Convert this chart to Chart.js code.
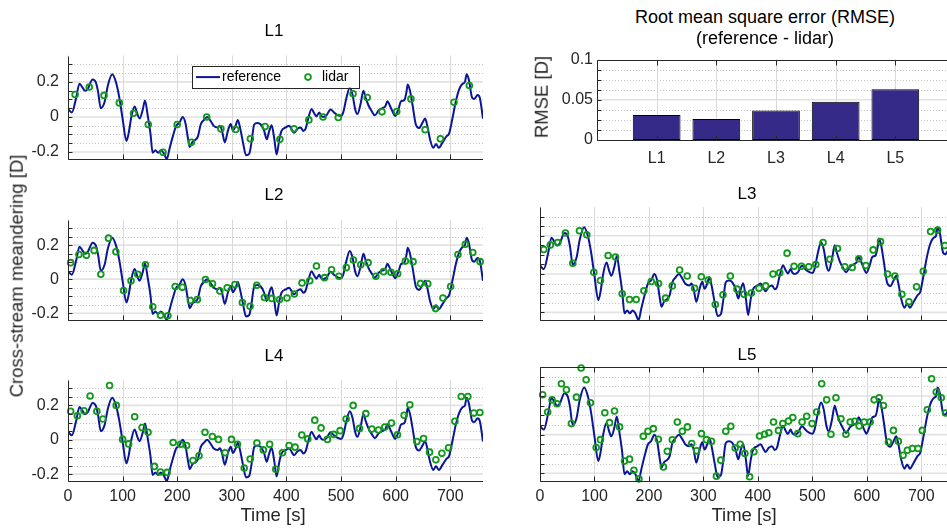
<!DOCTYPE html>
<html>
<head>
<meta charset="utf-8">
<script src="https://cdn.jsdelivr.net/npm/chart.js@4.4.0/dist/chart.umd.min.js"></script>
<style>
  html, body { margin: 0; padding: 0; background: #fff; overflow: hidden; width: 947px; height: 531px; position: relative;
               font-family: "Liberation Sans", Arial, sans-serif; color: #262626; }
  canvas { position: absolute; }
  .t { position: absolute; white-space: nowrap; transform: translate(-50%, -50%); line-height: 1; font-size: 18.5px; }
  .ttl { color: #000; font-size: 17px; }
  .big { font-size: 18px; }
  .rot { transform: translate(-50%, -50%) rotate(-90deg); }
</style>
</head>
<body>
<canvas id="c1"></canvas>
<canvas id="c2"></canvas>
<canvas id="c3"></canvas>
<canvas id="c4"></canvas>
<canvas id="c5"></canvas>
<canvas id="cBar"></canvas>

<div class="t ttl" style="left:274px;top:30px">L1</div>
<div class="t ttl" style="left:274px;top:194px">L2</div>
<div class="t ttl" style="left:747px;top:193px">L3</div>
<div class="t ttl" style="left:274px;top:355px">L4</div>
<div class="t ttl" style="left:747px;top:354px">L5</div>
<div class="t ttl big" style="left:765px;top:17px">Root mean square error (RMSE)</div>
<div class="t ttl big" style="left:765px;top:38px">(reference - lidar)</div>
<div class="t rot" style="left:542px;top:97px">RMSE [D]</div>
<div class="t rot" style="left:17px;top:276px">Cross-stream meandering [D]</div>
<div class="t" style="left:273px;top:515px">Time [s]</div>
<div class="t" style="left:744px;top:515px">Time [s]</div>

<script>
// --- DATA ---
// reference signal (same in every panel)
const refTime = [0,7,15,21,27,31,36,45,51,55,60,67,73,81,88,94,100,107,111,116,122,127,131,137,141,146,151,155,160,165,170,175,181,186,192,198,204,210,215,220,223,228,233,238,243,249,255,261,267,274,278,282,287,293,298,302,307,311,315,321,326,332,336,341,347,353,359,364,368,373,378,382,387,391,399,405,410,414,420,426,431,435,440,446,451,455,460,463,467,473,481,487,493,500,504,510,516,521,526,530,536,541,545,550,556,562,569,576,581,585,589,595,599,605,610,616,620,622,626,631,637,643,649,654,658,663,669,674,679,686,693,698,704,710,716,722,727,730,734,740,744,750,754,760];
const refValue = [0.046,0.026,0.11,0.19,0.166,0.149,0.159,0.214,0.197,0.145,0.05,0.085,0.18,0.244,0.197,0.11,-0.01,-0.137,-0.094,0,0.06,0.017,-0.009,0.043,0.094,0.008,-0.094,-0.205,-0.19,-0.205,-0.19,-0.205,-0.24,-0.18,-0.111,-0.051,-0.034,0.0,-0.034,-0.128,-0.171,-0.142,-0.132,-0.111,-0.043,-0.017,0.0,-0.022,-0.051,-0.06,-0.05,-0.077,-0.145,-0.077,-0.04,-0.077,-0.05,-0.017,-0.06,-0.154,-0.219,-0.21,-0.145,-0.043,-0.034,-0.043,-0.077,-0.128,-0.085,-0.048,-0.13,-0.214,-0.128,-0.08,-0.06,-0.05,-0.073,-0.09,-0.068,-0.06,-0.08,-0.068,-0.009,0.046,0.02,0.003,0.026,0.009,0.0,0.008,0.043,0.026,0.012,0.005,0.026,0.11,0.166,0.128,0.043,0.017,0.077,0.15,0.111,0.068,0.034,0.009,0.038,0.051,0.06,0.09,0.068,0.026,0.005,0.043,0.089,0.097,0.145,0.185,0.154,0.068,-0.043,-0.063,-0.034,-0.009,-0.051,-0.128,-0.176,-0.154,-0.176,-0.145,-0.111,-0.094,-0.009,0.085,0.154,0.188,0.2,0.244,0.214,0.111,0.103,0.125,0.111,-0.01];

// lidar estimates, one pair of arrays per distance
const l1Time = [13,39,66,94,120,147,174,200,226,254,280,307,334,361,388,414,441,467,495,522,548,575,602,628,654,682,707,735];
const l1Lidar = [0.128,0.171,0.123,0.080,0.021,-0.043,-0.202,-0.043,-0.145,0.0,-0.068,-0.072,-0.125,-0.055,-0.128,-0.068,-0.017,0.0,-0.003,0.132,0.111,0.029,0.031,0.103,-0.073,-0.125,0.084,0.179];

const l2Time = [4.8,20.1,33.7,47.8,60.1,74.2,87.7,101.8,115.4,127.6,141.8,155.3,169.4,182.9,196.4,209.3,224.1,237,251.7,264.6,278.1,291.6,305.8,319.3,333.4,345.7,359.8,373.3,387.4,401,414.5,428.6,442.7,455,469.8,482.7,496.2,509.7,522.6,536.1,549.6,563.8,577.9,591.4,603.7,617.8,631.9,645.4,658.9,673.1,686.6,700.7,714.2,727.7,741.2,754.8];
const l2Lidar = [0.097,0.145,0.140,0.169,0.029,0.241,0.161,-0.067,-0.010,0.029,0.085,-0.162,-0.212,-0.215,-0.043,-0.048,-0.125,-0.120,-0.002,-0.027,-0.070,-0.051,-0.031,-0.137,-0.159,-0.036,-0.108,-0.113,-0.120,-0.111,-0.087,-0.022,-0.009,0.077,0.009,0.055,0.017,0.068,0.113,0.085,0.097,0.017,0.044,0.041,0.032,0.106,0.103,-0.026,-0.027,-0.173,-0.111,-0.043,0.145,0.205,0.157,0.103];

const l3Time = [6.9,19.1,32.6,46.7,60.2,72.4,85.9,98.8,111,125.1,138.6,150.9,164.3,176.6,190.7,204.2,217.6,230.5,242.8,256.3,270.3,283.8,296.1,308.9,321.8,335.9,349.4,361.6,374.5,388,402.1,414.3,427.8,440.1,453.6,466.4,479.9,493.4,506.3,519.6,532,546.1,559.6,573.1,585.3,598.2,611.6,625.1,638,651.5,664.3,677.2,691.3,703.6,717,729.9,743.4];
const l3Lidar = [0.128,0.152,0.164,0.214,0.056,0.226,0.205,0.009,-0.034,0.097,0.089,-0.103,-0.133,-0.133,-0.087,-0.039,-0.050,-0.126,-0.062,0.021,-0.010,-0.074,-0.014,-0.031,-0.159,-0.108,-0.010,-0.079,-0.106,-0.099,-0.074,-0.062,0.0,0.007,0.109,0.041,0.041,0.038,0.05,0.164,0.077,0.133,0.038,0.034,0.080,0.044,0.126,0.169,0.0,-0.010,-0.106,-0.145,-0.067,0.014,0.222,0.229,0.149];

const l4Time = [4.9,17.2,29.4,40.5,52.8,63.8,76.1,88.3,100,111,122.1,135.6,146.6,158.3,169.3,181.6,192.6,206.1,217.2,228.8,239.9,250.9,264.4,275.5,287.7,299.4,310.4,322.7,333.7,346,357.7,369.3,380.5,392.7,404.9,415.9,428.1,439.1,451.9,463.5,475.1,486.7,498.3,509.3,522.2,533.8,545.4,556.4,568.6,580.2,592.4,603.4,615.6,626,638.9,651.1,662.1,673.7,684.7,696.9,708.5,720.1,732.3,743.3,754.3];
const l4Lidar = [0.166,0.140,0.169,0.255,0.166,0.121,0.316,0.2,0.002,-0.024,0.134,0.071,0.043,-0.155,-0.188,-0.19,-0.016,-0.026,-0.034,-0.121,-0.093,0.043,0.019,0.002,-0.076,0.002,-0.026,-0.164,-0.112,-0.019,-0.059,-0.026,-0.172,-0.076,-0.034,-0.043,0.028,0.005,0.114,0.069,0.002,0.031,0.053,0.121,0.2,0.066,0.152,0.062,0.057,0.074,0.097,0.029,0.143,0.203,-0.010,0.007,-0.072,-0.117,-0.079,-0.047,0.107,0.252,0.252,0.155,0.159];

const l5Time = [4.9,14.1,22.1,31.3,39.3,48.5,57.7,66.9,75.5,84.7,92.6,103.1,111,119,127.6,136.8,146,155.2,164.4,172.4,181.6,189.6,198.2,208,217.2,226.4,233.7,242.9,252.1,261.3,270.6,278.5,287.7,296.3,305.5,314.7,323.9,331.9,341.1,350.3,358.3,367.5,376.1,384.8,392.7,403,412.2,420.1,428.7,437.8,445.7,456.1,464,473.2,481.1,489.6,499.4,507.9,517.1,526.2,534.1,543.3,552.4,561.6,569.5,578,585.9,595.1,606.1,613.4,622.6,630.5,639.6,648.8,657.9,666.5,674.4,683.5,693.9,701.8,711,718.9,727.4,736.6,744.5];
const l5Lidar = [0.206,0.117,0.180,0.160,0.263,0.232,0.057,0.194,0.345,0.284,0.165,-0.067,-0.026,0.113,0.062,0.122,0.040,-0.137,-0.127,-0.184,-0.229,-0.009,0.017,0.031,-0.024,-0.167,-0.086,-0.027,0.065,0.017,0.040,-0.046,-0.084,0.005,-0.026,-0.034,-0.215,-0.132,0.017,0.043,-0.069,-0.050,-0.098,-0.218,-0.089,-0.007,0.002,0.010,0.065,0.022,0.057,0.070,0.088,0.005,0.065,0.095,0.057,0.117,0.263,0.180,0.002,0.191,0.082,0.002,0.065,0.069,0.045,0.065,0.065,0.180,0.191,0.151,-0.038,0.022,-0.034,-0.107,-0.081,-0.072,-0.072,0.022,0.129,0.289,0.220,0.191,0.112];

// RMSE bar chart
const rmseLabels = ['L1', 'L2', 'L3', 'L4', 'L5'];
const rmseValues = [0.031, 0.026, 0.0368, 0.0477, 0.0632];

// ticks
const timeTicks = [0, 100, 200, 300, 400, 500, 600, 700];
const meanderTicks = [-0.2, 0, 0.2];
const meanderMinor = [-0.15, -0.1, -0.05, 0.05, 0.1, 0.15, 0.25, 0.3];
const rmseTicks = [0, 0.05, 0.1];
const rmseMinor = [0.0125, 0.025, 0.0375, 0.0625, 0.075, 0.0875];

// --- STYLE ---
const FONT = '"Liberation Sans", Arial, sans-serif';
const AX = '#262626';
const LINE = '#0a1696';
const GREEN = '#10991a';
const BAR = '#352a87';
const Y_AXIS_W = 60, X_AXIS_H = 30, PAD_T = 6, PAD_R = 6;

const fmt = v => String(+(+v).toFixed(3));

// sizes the canvas so the chart area lands on the given plot box
function place(cv, r) {
    cv.width = r.right - r.left + Y_AXIS_W + PAD_R;
    cv.height = r.bottom - r.top + PAD_T + X_AXIS_H;
    cv.style.left = (r.left - Y_AXIS_W) + 'px';
    cv.style.top = (r.top - PAD_T) + 'px';
}

// MATLAB-like grid (solid majors, dotted minors), box lines and inward ticks
const matlabAxes = {
    id: 'matlabAxes',
    beforeDatasetsDraw(chart, args, o) {
        const { ctx, chartArea: a } = chart;
        const x = chart.scales.x, y = chart.scales.y;
        ctx.save();
        ctx.lineWidth = 1;
        ctx.strokeStyle = '#c4c4c4';
        ctx.setLineDash([1, 2]);
        o.yMinor.forEach(v => {
            const py = Math.round(y.getPixelForValue(v)) + 0.5;
            ctx.beginPath(); ctx.moveTo(a.left, py); ctx.lineTo(a.right, py); ctx.stroke();
        });
        ctx.setLineDash([]);
        ctx.strokeStyle = '#e2e2e2';
        ctx.lineWidth = 1.6;
        o.yMajor.forEach(v => {
            const py = y.getPixelForValue(v);
            ctx.beginPath(); ctx.moveTo(a.left, py); ctx.lineTo(a.right, py); ctx.stroke();
        });
        ctx.strokeStyle = '#d9d9d9';
        ctx.lineWidth = 1;
        o.xMajor.forEach(v => {
            const px = Math.round(x.getPixelForValue(v)) + 0.5;
            ctx.beginPath(); ctx.moveTo(px, a.top); ctx.lineTo(px, a.bottom); ctx.stroke();
        });
        ctx.restore();
    },
    afterDatasetsDraw(chart, args, o) {
        const { ctx, chartArea: a } = chart;
        const x = chart.scales.x, y = chart.scales.y;
        const L = Math.round(a.left) + 0.5, B = Math.round(a.bottom) + 0.5, T = Math.round(a.top) + 0.5;
        ctx.save();
        ctx.strokeStyle = AX;
        ctx.lineWidth = 1;
        ctx.beginPath();
        ctx.moveTo(L, T); ctx.lineTo(L, B); ctx.lineTo(a.right, B);
        if (o.box) { ctx.moveTo(L, T); ctx.lineTo(a.right, T); }
        ctx.stroke();
        ctx.beginPath();
        o.yMinor.concat(o.yMajor, o.yTickOnly || []).forEach(v => {
            const py = Math.round(y.getPixelForValue(v)) + 0.5;
            ctx.moveTo(L, py); ctx.lineTo(L + 4, py);
        });
        o.xMajor.forEach(v => {
            const px = Math.round(x.getPixelForValue(v)) + 0.5;
            ctx.moveTo(px, B); ctx.lineTo(px, B - 5);
            if (o.box) { ctx.moveTo(px, T); ctx.lineTo(px, T + 5); }
        });
        ctx.stroke();
        ctx.restore();
    }
};

// in-axes legend of the L1 panel
const refLegend = {
    id: 'refLegend',
    afterDraw(chart, args, o) {
        const { ctx, chartArea: a } = chart;
        const bx = a.left + o.dx, by = a.top + o.dy;
        ctx.save();
        ctx.fillStyle = '#fff';
        ctx.fillRect(bx, by, o.w, o.h);
        ctx.strokeStyle = AX;
        ctx.lineWidth = 1;
        ctx.strokeRect(Math.round(bx) + 0.5, Math.round(by) + 0.5, o.w, o.h);
        const cy = by + o.h / 2 + 0.5;
        ctx.strokeStyle = LINE;
        ctx.lineWidth = 2;
        ctx.beginPath(); ctx.moveTo(bx + 4, cy); ctx.lineTo(bx + 28, cy); ctx.stroke();
        ctx.strokeStyle = GREEN;
        ctx.lineWidth = 1.8;
        ctx.beginPath(); ctx.arc(bx + 116, cy, 2.9, 0, Math.PI * 2); ctx.stroke();
        ctx.fillStyle = '#000';
        ctx.font = '14px ' + FONT;
        ctx.textBaseline = 'middle';
        ctx.fillText('reference', bx + 30, cy);
        ctx.fillText('lidar', bx + 130, cy);
        ctx.restore();
    }
};

const tickFont = { size: 16, family: FONT };

function meanderPanel(id, rect, lidarTime, lidarValue, showX, showY, box, legend) {
    const cv = document.getElementById(id);
    place(cv, rect);
    return new Chart(cv, {
        type: 'scatter',
        data: {
            datasets: [
                {
                    label: 'lidar',
                    data: lidarTime.map((t, i) => ({ x: t, y: lidarValue[i] })),
                    pointStyle: 'circle',
                    pointRadius: 2.9,
                    pointBorderWidth: 1.8,
                    pointBorderColor: GREEN,
                    pointBackgroundColor: 'rgba(0,0,0,0)',
                    clip: false
                },
                {
                    label: 'reference',
                    data: refTime.map((t, i) => ({ x: t, y: refValue[i] })),
                    showLine: true,
                    pointRadius: 0,
                    borderColor: LINE,
                    borderWidth: 2,
                    cubicInterpolationMode: 'monotone'
                }
            ]
        },
        options: {
            responsive: false,
            animation: false,
            devicePixelRatio: 1,
            layout: { autoPadding: false, padding: { top: PAD_T, right: PAD_R, left: 0, bottom: 0 } },
            plugins: {
                legend: { display: false },
                tooltip: { enabled: false },
                matlabAxes: { yMinor: meanderMinor, yMajor: meanderTicks, xMajor: timeTicks, box: box },
                refLegend: legend ? { dx: 124, dy: 10, w: 167, h: 22 } : false
            },
            scales: {
                x: {
                    type: 'linear', min: 0, max: 760,
                    afterBuildTicks: s => { s.ticks = timeTicks.map(v => ({ value: v })); },
                    afterFit: s => { s.height = X_AXIS_H; },
                    grid: { display: false, drawTicks: false }, border: { display: false },
                    ticks: { display: showX, color: AX, font: tickFont, padding: 6, maxRotation: 0, autoSkip: false, callback: v => fmt(v) }
                },
                y: {
                    min: -0.24, max: 0.35,
                    afterBuildTicks: s => { s.ticks = meanderTicks.map(v => ({ value: v })); },
                    afterFit: s => { s.width = Y_AXIS_W; },
                    grid: { display: false, drawTicks: false }, border: { display: false },
                    ticks: { display: showY, color: AX, font: tickFont, padding: 9, callback: v => fmt(v) }
                }
            }
        },
        plugins: [matlabAxes, refLegend]
    });
}

meanderPanel('c1', { left: 68, top: 43, right: 483, bottom: 159 }, l1Time, l1Lidar, false, true, false, true);
meanderPanel('c2', { left: 68, top: 207, right: 483, bottom: 320 }, l2Time, l2Lidar, false, true, false, false);
meanderPanel('c3', { left: 540, top: 207, right: 954, bottom: 320 }, l3Time, l3Lidar, false, false, false, false);
meanderPanel('c4', { left: 68, top: 367, right: 483, bottom: 481 }, l4Time, l4Lidar, true, true, false, false);
meanderPanel('c5', { left: 540, top: 367, right: 954, bottom: 481 }, l5Time, l5Lidar, true, false, true, false);

// --- RMSE BARS ---
(function () {
    const cv = document.getElementById('cBar');
    place(cv, { left: 597, top: 52, right: 955, bottom: 140 });
    new Chart(cv, {
        type: 'bar',
        data: {
            datasets: [{
                data: rmseValues.map((v, i) => ({ x: i + 1, y: v })),
                backgroundColor: BAR,
                borderColor: '#000',
                borderWidth: 1,
                borderSkipped: false,
                categoryPercentage: 1,
                barPercentage: 0.8
            }]
        },
        options: {
            responsive: false,
            animation: false,
            devicePixelRatio: 1,
            layout: { autoPadding: false, padding: { top: PAD_T, right: PAD_R, left: 0, bottom: 0 } },
            plugins: {
                legend: { display: false },
                tooltip: { enabled: false },
                matlabAxes: { yMinor: rmseMinor, yMajor: [0.05], yTickOnly: [0, 0.1], xMajor: rmseLabels.map((l, i) => i + 1), box: true }
            },
            scales: {
                x: {
                    type: 'linear', min: 0, max: rmseLabels.length + 1, offset: false,
                    afterBuildTicks: s => { s.ticks = rmseLabels.map((l, i) => ({ value: i + 1 })); },
                    afterFit: s => { s.height = X_AXIS_H; },
                    grid: { display: false, drawTicks: false, offset: false }, border: { display: false },
                    ticks: { color: AX, font: tickFont, padding: 9, maxRotation: 0, autoSkip: false, callback: (v, i) => rmseLabels[i] }
                },
                y: {
                    min: 0, max: 0.1,
                    afterBuildTicks: s => { s.ticks = rmseTicks.map(v => ({ value: v })); },
                    afterFit: s => { s.width = Y_AXIS_W; },
                    grid: { display: false, drawTicks: false }, border: { display: false },
                    ticks: { color: AX, font: tickFont, padding: 4, callback: v => fmt(v) }
                }
            }
        },
        plugins: [matlabAxes]
    });
})();
</script>
</body>
</html>
